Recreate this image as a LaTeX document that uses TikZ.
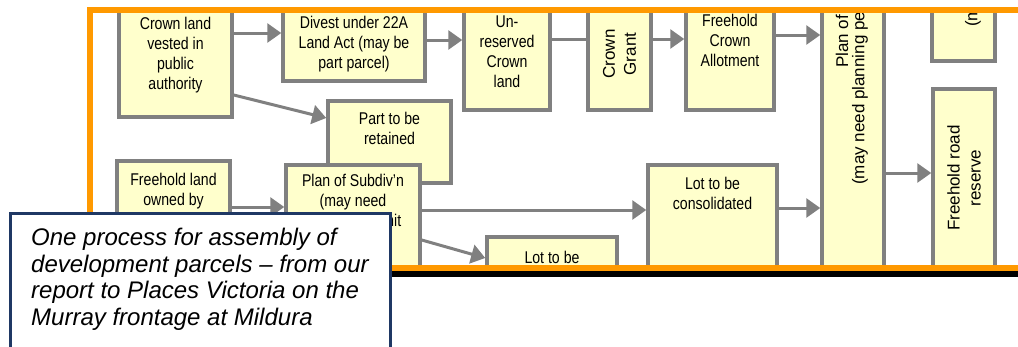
\documentclass[tikz,border=0pt]{standalone}
\usepackage{fontspec}
\usepackage{xcolor}
\usepackage{tikz}
\usetikzlibrary{arrows.meta,fit}
\newfontfamily\boxfont[FakeStretch=0.83]{Liberation Sans}
\newfontfamily\sidefont{Liberation Sans}
\newfontfamily\notefont{Liberation Sans}
\definecolor{FrameOrange}{HTML}{FF9900}
\definecolor{BoxYellow}{HTML}{FFFFCC}
\definecolor{BoxGrey}{HTML}{808080}
\definecolor{NoteBlue}{HTML}{1F3864}

\begin{document}
\begin{tikzpicture}[x=1pt, y=-1pt,
    box/.style={draw=BoxGrey, line width=3.5pt, fill=BoxYellow, inner sep=0pt},
    txt/.style={inner sep=0pt, align=center, yshift=-2pt, font=\boxfont\fontsize{17}{20}\selectfont},
    vtxt/.style={inner sep=0pt, align=center, rotate=90, font=\sidefont\fontsize{17}{21}\selectfont},
    arrow/.style={-{Triangle[length=14pt,width=19pt]}, line width=3pt, color=BoxGrey},
    link/.style={line width=3pt, color=BoxGrey},
    notebox/.style={draw=NoteBlue, line width=3pt, fill=white, inner sep=0pt},
    note/.style={inner sep=0pt, align=left, font=\notefont\itshape\fontsize{24}{26.7}\selectfont}
  ]
  \useasboundingbox (0,0) rectangle (1018,346);
  \begin{scope}
    \clip (89.7,9.7) rectangle (1030,268);
    % top row
    \node[box, fit={(119,-11) (232,117)}] (crown) {};
    \node[txt] (crown-t) at (crown) {Crown land\\vested in\\public\\authority};
    \node[box, fit={(283,3) (425,81)}] (divest) {};
    \node[txt] (divest-t) at (divest) {Divest under 22A\\Land Act (may be\\part parcel)};
    \node[box, fit={(464,-11) (550,110)}] (unres) {};
    \node[txt] (unres-t) at (unres) {Un-\\reserved\\Crown\\land};
    \node[box, fit={(588,-2) (651,110)}] (grant) {};
    \node[vtxt] (grant-t) at (grant) {Crown\\Grant};
    \node[box, fit={(686,-34) (774,110)}] (allot) {};
    \node[txt] (allot-t) at (allot) {Freehold\\Crown\\Allotment};
    \node[box, fit={(822,-150) (884,330)}] (plancons) {};
    \node[vtxt, anchor=west] (plancons-a) at (842,68) {Plan of};
    \node[vtxt, anchor=west] (plancons-b) at (860,185) {(may need planning permit)};
    \node[box, fit={(932,-150) (995,61)}] (lots) {};
    \node[vtxt, anchor=west] (lots-t) at (973,27) {(may};
    \node[box, fit={(933,89) (995,267)}] (road) {};
    \node[vtxt] (road-t) at (road) {Freehold road\\reserve};
    % lower rows
    \node[box, fit={(328,101) (451,183)}] (part) {};
    \node[txt] (part-t) at ([yshift=-27pt]part.north) {Part to be\\retained};
    \node[box, fit={(117,161) (230,300)}] (free) {};
    \node[txt] (free-t) at ([yshift=-30pt]free.north) {Freehold land\\owned by};
    \node[box, fit={(286,165) (420,320)}] (plansub) {};
    \node[txt] (plansub-t) at ([yshift=-37pt]plansub.north) {Plan of Subdiv’n\\(may need\\planning permit};
    \node[box, fit={(648,165) (777,320)}] (lotcons) {};
    \node[txt] (lotcons-t) at ([yshift=-28pt]lotcons.north) {Lot to be\\consolidated};
    \node[box, fit={(487,237) (617,320)}] (lotsub) {};
    \node[txt] (lotsub-t) at ([yshift=-20pt]lotsub.north) {Lot to be};
    % connectors
    \draw[arrow] ([yshift=20pt]crown.east) -- ([yshift=9pt]divest.west);
    \draw[arrow] ([yshift=2pt]divest.east) -- ([yshift=9.5pt]unres.west);
    \draw[link] ([yshift=10pt]unres.east) -- ([yshift=14.5pt]grant.west);
    \draw[arrow] ([yshift=15pt]grant.east) -- ([yshift=-1pt]allot.west);
    \draw[arrow] ([yshift=3pt]allot.east) -- ([yshift=55pt]plancons.west);
    \draw[arrow] ([yshift=-42pt]crown.east) -- ([yshift=24pt]part.west);
    \draw[arrow] ([yshift=23.5pt]free.east) -- ([yshift=35.5pt]plansub.west);
    \draw[arrow] ([yshift=32.5pt]plansub.east) -- ([yshift=32.5pt]lotcons.west);
    \draw[arrow] ([yshift=2.5pt]plansub.east) -- ([yshift=20.5pt]lotsub.west);
    \draw[arrow] ([yshift=34.5pt]lotcons.east) -- ([yshift=-118pt]plancons.west);
    \draw[arrow] ([yshift=-83pt]plancons.east) -- ([yshift=5pt]road.west);
  \end{scope}
  % frame
  \draw[black, line width=6pt] (95,274) -- (1030,274);
  \draw[FrameOrange, line width=6pt] (1030,9.7) -- (89.7,9.7) -- (89.7,268) -- (1030,268);
  % caption
  \node[notebox, fit={(10,213) (390,380)}] (notebox) {};
  \node[note, anchor=north west] (note-t) at (31,228) {One process for assembly of\\development parcels – from our\\report to Places Victoria on the\\Murray frontage at Mildura};
\end{tikzpicture}
\end{document}
